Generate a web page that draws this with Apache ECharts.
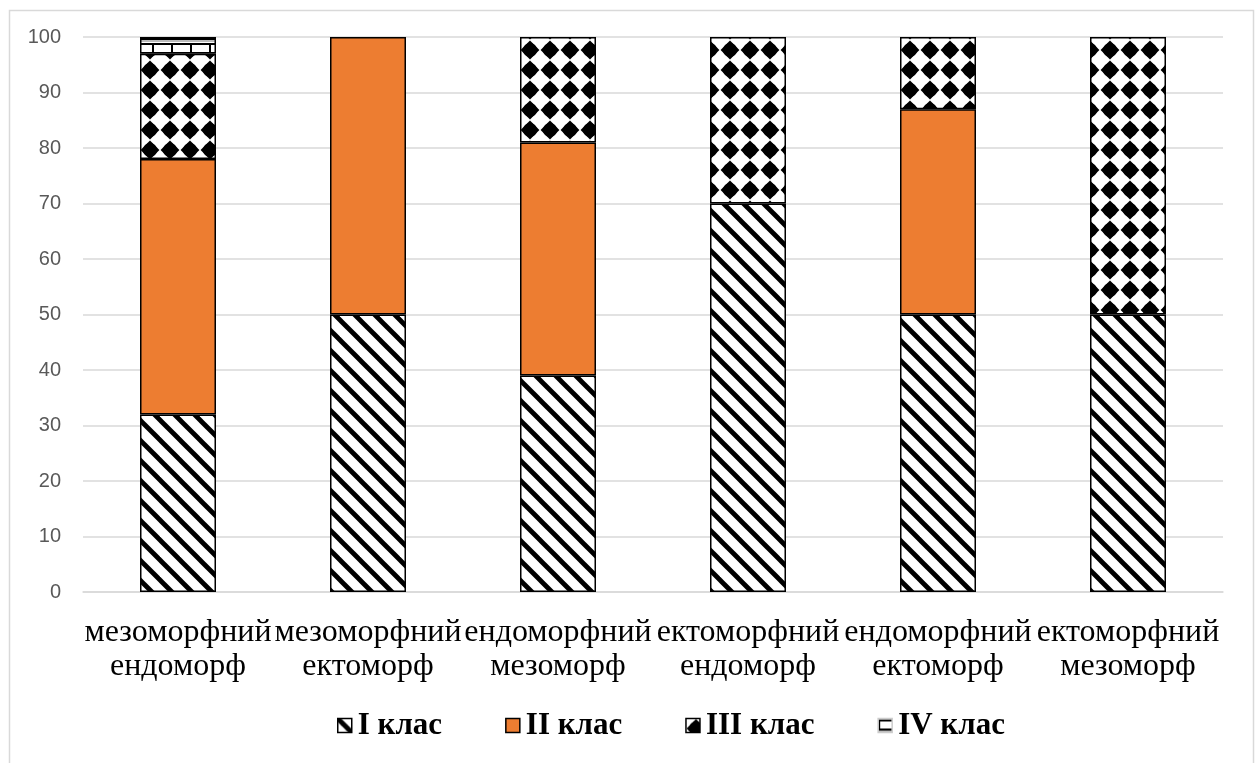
<!DOCTYPE html>
<html>
<head>
<meta charset="utf-8">
<script src="https://cdn.jsdelivr.net/npm/echarts@6/dist/echarts.min.js"></script>
<style>
html,body{margin:0;padding:0;background:#fff;}
#chart{width:1256px;height:763px;}
</style>
</head>
<body>
<div id="chart"></div>
<script>
const categories = ['мезоморфний\nендоморф','мезоморфний\nектоморф','ендоморфний\nмезоморф','ектоморфний\nендоморф','ендоморфний\nектоморф','ектоморфний\nмезоморф'];
const seriesNames = ['I клас','II клас','III клас','IV клас'];
const classI = [32, 50, 39, 70, 50, 50];
const classII = [46, 50, 42, 0, 37, 0];
const classIII = [19, 0, 19, 30, 13, 50];
const classIV = [3, 0, 0, 0, 0, 0];
const yTicks = {min: 0, max: 100, interval: 10};

function stripePattern() {
  const s = 20, c = document.createElement('canvas');
  c.width = s; c.height = s;
  const g = c.getContext('2d');
  g.fillStyle = '#fff'; g.fillRect(0,0,s,s);
  g.strokeStyle = '#000'; g.lineWidth = 4.8;
  for (let o = -s; o <= s; o += s) {
    g.beginPath(); g.moveTo(o - 2, -2); g.lineTo(o + s + 2, s + 2); g.stroke();
  }
  return c;
}
function diamondPattern() {
  const s = 20, c = document.createElement('canvas');
  c.width = s; c.height = s;
  const g = c.getContext('2d');
  g.fillStyle = '#fff'; g.fillRect(0,0,s,s);
  g.fillStyle = '#000';
  const r = 9.4, cx = 10, cy = 10;
  g.beginPath();
  g.moveTo(cx, cy - r); g.lineTo(cx + r, cy); g.lineTo(cx, cy + r); g.lineTo(cx - r, cy); g.closePath();
  g.fill();
  g.beginPath(); g.arc(cx, cy, 7, 0, Math.PI * 2); g.fill();
  return c;
}
function brickPattern() {
  const w = 19, h = 14, c = document.createElement('canvas');
  c.width = w; c.height = h;
  const g = c.getContext('2d');
  g.fillStyle = '#fff'; g.fillRect(0,0,w,h);
  g.fillStyle = '#000';
  g.fillRect(0, 1, w, 2);
  g.fillRect(0, 10, w, 2);
  g.fillRect(0, 1, 2, 11);
  g.fillStyle = '#bbb';
  g.fillRect(0, 12, w, 2);
  return c;
}

const pats = [
  {image: stripePattern(), repeat: 'repeat'},
  '#ED7D31',
  {image: diamondPattern(), repeat: 'repeat'},
  {image: brickPattern(), repeat: 'repeat'}
];
const dataSets = [classI, classII, classIII, classIV];

const chart = echarts.init(document.getElementById('chart'));
chart.setOption({
  animation: false,
  backgroundColor: '#fff',
  graphic: [{
    type: 'rect', left: 7, top: 8, silent: true,
    shape: {width: 1244, height: 770},
    style: {fill: 'none', stroke: '#d9d9d9', lineWidth: 1.5}
  }],
  grid: {left: 83, right: 33, top: 37, bottom: 171, containLabel: false},
  legend: {
    left: 332, top: 705, icon: 'rect',
    itemWidth: 14, itemHeight: 14, itemGap: 63,
    textStyle: {fontFamily: 'Liberation Serif', fontWeight: 'bold', fontSize: 31, color: '#000', padding: [0,0,0,1]},
    data: seriesNames.map((n, i) => ({name: n, itemStyle: {borderColor: i === 3 ? '#ccc' : '#000', borderWidth: 1.5}}))
  },
  xAxis: {
    type: 'category', data: categories,
    axisLine: {lineStyle: {color: '#d9d9d9', width: 1.5}},
    axisTick: {show: false},
    axisLabel: {fontFamily: 'Liberation Serif', fontSize: 32, lineHeight: 34, color: '#000', margin: 24, interval: 0}
  },
  yAxis: {
    type: 'value', min: yTicks.min, max: yTicks.max, interval: yTicks.interval,
    axisLine: {show: false}, axisTick: {show: false},
    splitLine: {lineStyle: {color: '#d9d9d9', width: 1.5}},
    axisLabel: {fontFamily: 'Liberation Sans', fontSize: 20, color: '#595959', margin: 22}
  },
  series: dataSets.map((d, i) => ({
    name: seriesNames[i], type: 'bar', stack: 'all', barWidth: '40%',
    data: d.map(v => v === 0 ? null : v),
    itemStyle: {color: pats[i], borderColor: '#000', borderWidth: 1.5}
  }))
});
</script>
</body>
</html>
